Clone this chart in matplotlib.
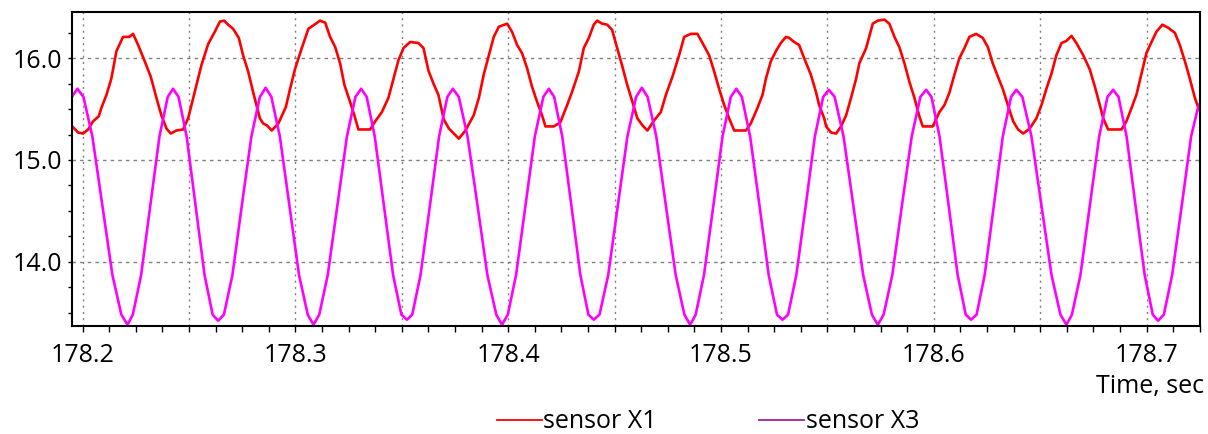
import numpy as np
import matplotlib
matplotlib.use("Agg")
import matplotlib.pyplot as plt
from matplotlib.ticker import MultipleLocator, FuncFormatter
from matplotlib.lines import Line2D

plt.rcParams['font.family'] = ['Open Sans', 'DejaVu Sans']

# sensor X1 (red), time in s
t1 = [
    178.1951, 178.1979, 178.2002, 178.2026, 178.2049, 178.2076, 178.2088, 178.2112, 178.2135, 178.2159,
    178.2190, 178.2219, 178.2237, 178.2261, 178.2292, 178.2320, 178.2347, 178.2370, 178.2394, 178.2414,
    178.2441, 178.2472, 178.2496, 178.2527, 178.2558, 178.2590, 178.2621, 178.2645, 178.2665, 178.2684,
    178.2707, 178.2734, 178.2754, 178.2778, 178.2801, 178.2817, 178.2833, 178.2848, 178.2866, 178.2889,
    178.2920, 178.2955, 178.2975, 178.2999, 178.3030, 178.3061, 178.3089, 178.3116, 178.3140, 178.3163,
    178.3187, 178.3210, 178.3230, 178.3257, 178.3277, 178.3296, 178.3351, 178.3375, 178.3406, 178.3437,
    178.3461, 178.3484, 178.3508, 178.3539, 178.3578, 178.3602, 178.3625, 178.3649, 178.3672, 178.3697,
    178.3721, 178.3768, 178.3799, 178.3838, 178.3862, 178.3885, 178.3909, 178.3932, 178.3956, 178.3995,
    178.4018, 178.4042, 178.4065, 178.4089, 178.4112, 178.4136, 178.4159, 178.4175, 178.4214, 178.4245,
    178.4277, 178.4300, 178.4332, 178.4355, 178.4379, 178.4402, 178.4418, 178.4441, 178.4465, 178.4488,
    178.4512, 178.4535, 178.4559, 178.4584, 178.4607, 178.4631, 178.4654, 178.4686, 178.4717, 178.4741,
    178.4772, 178.4803, 178.4827, 178.4858, 178.4889, 178.4913, 178.4944, 178.4968, 178.4991, 178.5015,
    178.5038, 178.5062, 178.5117, 178.5140, 178.5171, 178.5195, 178.5211, 178.5234, 178.5258, 178.5281,
    178.5305, 178.5320, 178.5344, 178.5367, 178.5391, 178.5422, 178.5446, 178.5461, 178.5485, 178.5494,
    178.5517, 178.5541, 178.5564, 178.5588, 178.5611, 178.5635, 178.5650, 178.5682, 178.5713, 178.5737,
    178.5768, 178.5791, 178.5815, 178.5838, 178.5862, 178.5885, 178.5909, 178.5932, 178.5948, 178.5995,
    178.6026, 178.6050, 178.6073, 178.6097, 178.6120, 178.6144, 178.6167, 178.6199, 178.6230, 178.6254,
    178.6277, 178.6301, 178.6324, 178.6348, 178.6373, 178.6396, 178.6420, 178.6451, 178.6482, 178.6506,
    178.6529, 178.6553, 178.6576, 178.6600, 178.6623, 178.6647, 178.6670, 178.6702, 178.6733, 178.6757,
    178.6780, 178.6796, 178.6819, 178.6882, 178.6905, 178.6929, 178.6952, 178.6976, 178.6999, 178.7023,
    178.7046, 178.7074, 178.7101, 178.7133, 178.7156, 178.7180, 178.7203, 178.7227, 178.7242, 178.7251,
]
x1 = [
    15.33, 15.27, 15.26, 15.30, 15.38, 15.43, 15.51, 15.64, 15.80, 16.07,
    16.21, 16.21, 16.24, 16.13, 15.97, 15.82, 15.61, 15.44, 15.31, 15.26,
    15.29, 15.30, 15.41, 15.67, 15.93, 16.14, 16.26, 16.36, 16.37, 16.33,
    16.29, 16.20, 16.03, 15.87, 15.67, 15.54, 15.41, 15.36, 15.34, 15.29,
    15.36, 15.52, 15.70, 15.90, 16.10, 16.29, 16.33, 16.37, 16.35, 16.21,
    16.11, 15.95, 15.74, 15.57, 15.44, 15.30, 15.30, 15.38, 15.47, 15.61,
    15.80, 15.98, 16.10, 16.16, 16.15, 16.10, 15.88, 15.75, 15.64, 15.40,
    15.31, 15.21, 15.29, 15.44, 15.61, 15.84, 16.03, 16.21, 16.31, 16.34,
    16.26, 16.13, 16.05, 15.90, 15.72, 15.57, 15.44, 15.33, 15.33, 15.37,
    15.54, 15.67, 15.87, 16.10, 16.20, 16.33, 16.37, 16.34, 16.33, 16.28,
    16.10, 15.93, 15.74, 15.57, 15.41, 15.34, 15.29, 15.39, 15.47, 15.64,
    15.82, 16.03, 16.21, 16.24, 16.24, 16.15, 16.03, 15.87, 15.70, 15.54,
    15.41, 15.29, 15.29, 15.36, 15.51, 15.64, 15.80, 15.97, 16.07, 16.15,
    16.21, 16.20, 16.16, 16.13, 16.00, 15.84, 15.67, 15.54, 15.41, 15.33,
    15.27, 15.26, 15.33, 15.44, 15.61, 15.80, 15.95, 16.10, 16.34, 16.37,
    16.38, 16.34, 16.21, 16.11, 15.95, 15.77, 15.61, 15.43, 15.33, 15.33,
    15.47, 15.54, 15.66, 15.84, 16.00, 16.10, 16.21, 16.24, 16.20, 16.11,
    15.95, 15.82, 15.70, 15.54, 15.38, 15.30, 15.26, 15.31, 15.41, 15.54,
    15.70, 15.85, 16.03, 16.15, 16.17, 16.22, 16.15, 16.03, 15.89, 15.72,
    15.54, 15.41, 15.30, 15.30, 15.38, 15.51, 15.64, 15.85, 16.05, 16.16,
    16.26, 16.33, 16.30, 16.25, 16.13, 15.97, 15.80, 15.61, 15.52, 15.48,
]

# sensor X3 (magenta)
t3 = [
    178.1949, 178.1976,
    178.2004, 178.2046, 178.2093, 178.2140, 178.2182, 178.2211,
    178.2236, 178.2275, 178.2318, 178.2361, 178.2400, 178.2425,
    178.2451, 178.2489, 178.2531, 178.2573, 178.2611, 178.2637,
    178.2664, 178.2704, 178.2748, 178.2793, 178.2833, 178.2860,
    178.2887, 178.2927, 178.2972, 178.3017, 178.3058, 178.3085,
    178.3112, 178.3152, 178.3197, 178.3242, 178.3282, 178.3309,
    178.3335, 178.3373, 178.3416, 178.3459, 178.3498, 178.3524,
    178.3549, 178.3588, 178.3632, 178.3675, 178.3714, 178.3740,
    178.3768, 178.3809, 178.3856, 178.3902, 178.3944, 178.3971,
    178.3998, 178.4037, 178.4081, 178.4125, 178.4165, 178.4191,
    178.4216, 178.4254, 178.4297, 178.4339, 178.4377, 178.4402,
    178.4429, 178.4470, 178.4515, 178.4560, 178.4601, 178.4628,
    178.4655, 178.4696, 178.4741, 178.4787, 178.4828, 178.4855,
    178.4881, 178.4920, 178.4964, 178.5007, 178.5046, 178.5072,
    178.5098, 178.5137, 178.5181, 178.5224, 178.5263, 178.5289,
    178.5315, 178.5354, 178.5398, 178.5441, 178.5480, 178.5507,
    178.5534, 178.5576, 178.5622, 178.5668, 178.5709, 178.5737,
    178.5764, 178.5805, 178.5850, 178.5896, 178.5937, 178.5964,
    178.5989, 178.6027, 178.6070, 178.6112, 178.6150, 178.6175,
    178.6201, 178.6239, 178.6282, 178.6324, 178.6363, 178.6388,
    178.6416, 178.6459, 178.6506, 178.6553, 178.6595, 178.6623,
    178.6649, 178.6689, 178.6733, 178.6777, 178.6816, 178.6843,
    178.6868, 178.6906, 178.6948, 178.6991, 178.7029, 178.7054,
    178.7081, 178.7120, 178.7165, 178.7209, 178.7242, 178.7252,
]
x3 = [
    15.62, 15.70,
    15.62, 15.23, 14.55, 13.87, 13.48, 13.38,
    13.48, 13.87, 14.55, 15.23, 15.62, 15.70,
    15.62, 15.23, 14.55, 13.87, 13.48, 13.42,
    13.48, 13.87, 14.55, 15.23, 15.62, 15.71,
    15.62, 15.23, 14.55, 13.87, 13.48, 13.38,
    13.48, 13.87, 14.55, 15.23, 15.62, 15.70,
    15.62, 15.23, 14.55, 13.87, 13.48, 13.43,
    13.48, 13.87, 14.55, 15.23, 15.62, 15.70,
    15.62, 15.23, 14.55, 13.87, 13.48, 13.38,
    13.48, 13.87, 14.55, 15.23, 15.62, 15.70,
    15.62, 15.23, 14.55, 13.87, 13.48, 13.43,
    13.48, 13.87, 14.55, 15.23, 15.62, 15.71,
    15.62, 15.23, 14.55, 13.87, 13.48, 13.38,
    13.48, 13.87, 14.55, 15.23, 15.62, 15.70,
    15.62, 15.23, 14.55, 13.87, 13.48, 13.43,
    13.48, 13.87, 14.55, 15.23, 15.62, 15.69,
    15.62, 15.23, 14.55, 13.87, 13.48, 13.38,
    13.48, 13.87, 14.55, 15.23, 15.62, 15.69,
    15.62, 15.23, 14.55, 13.87, 13.48, 13.43,
    13.48, 13.87, 14.55, 15.23, 15.62, 15.69,
    15.62, 15.23, 14.55, 13.87, 13.48, 13.38,
    13.48, 13.87, 14.55, 15.23, 15.62, 15.69,
    15.62, 15.23, 14.55, 13.87, 13.48, 13.42,
    13.48, 13.87, 14.55, 15.23, 15.52, 15.56,
]

fig = plt.figure(figsize=(12.08, 4.34), dpi=100)
ax = fig.add_axes([0.0594, 0.2488, 0.934, 0.7229])

ax.plot(t1, x1, color='#ff0000', lw=1.9, label='sensor X1')
ax.plot(t3, x3, color='#ff00ff', lw=1.9, label='sensor X3')

ax.set_xlim(178.1949, 178.7251)
ax.set_ylim(13.368, 16.452)

# x: labels every 0.1, grid every 0.05, small ticks every 0.0125
ax.xaxis.set_major_locator(MultipleLocator(0.05))
ax.xaxis.set_minor_locator(MultipleLocator(0.0125))
ax.xaxis.set_major_formatter(FuncFormatter(
    lambda v, p: '%.1f' % v if abs(v * 10 - round(v * 10)) < 1e-6 else ''))
ax.yaxis.set_major_locator(MultipleLocator(1.0))
ax.yaxis.set_minor_locator(MultipleLocator(0.25))
ax.yaxis.set_major_formatter(FuncFormatter(lambda v, p: '%.1f' % v))

ax.tick_params(axis='x', which='both', direction='out', length=4, width=1, labelsize=18, pad=8)
ax.tick_params(axis='y', which='both', direction='out', length=3, width=1, labelsize=18, pad=4)

ax.grid(axis='x', which='major', color='#808080', linestyle=(0, (1.5, 3)), lw=1)
ax.grid(axis='y', which='major', color='#808080', linestyle=(0, (2.5, 3)), lw=1)

for s in ax.spines.values():
    s.set_linewidth(1.5)
    s.set_color('black')

fig.text(1204 / 1208, 1 - 393 / 434, 'Time, sec', ha='right', va='baseline', fontsize=18)

handles = [Line2D([], [], color='#ff0000', lw=1.3),
           Line2D([], [], color='#a020a0', lw=1.3)]
fig.legend(handles, ['sensor X1', 'sensor X3'], loc='center', ncol=2,
           bbox_to_anchor=(708 / 1208, 1 - 422 / 434), frameon=False,
           fontsize=18, handlelength=1.8, handletextpad=0.05, columnspacing=4.1,
           borderpad=0, borderaxespad=0)

fig.savefig('out.png', dpi=100)
